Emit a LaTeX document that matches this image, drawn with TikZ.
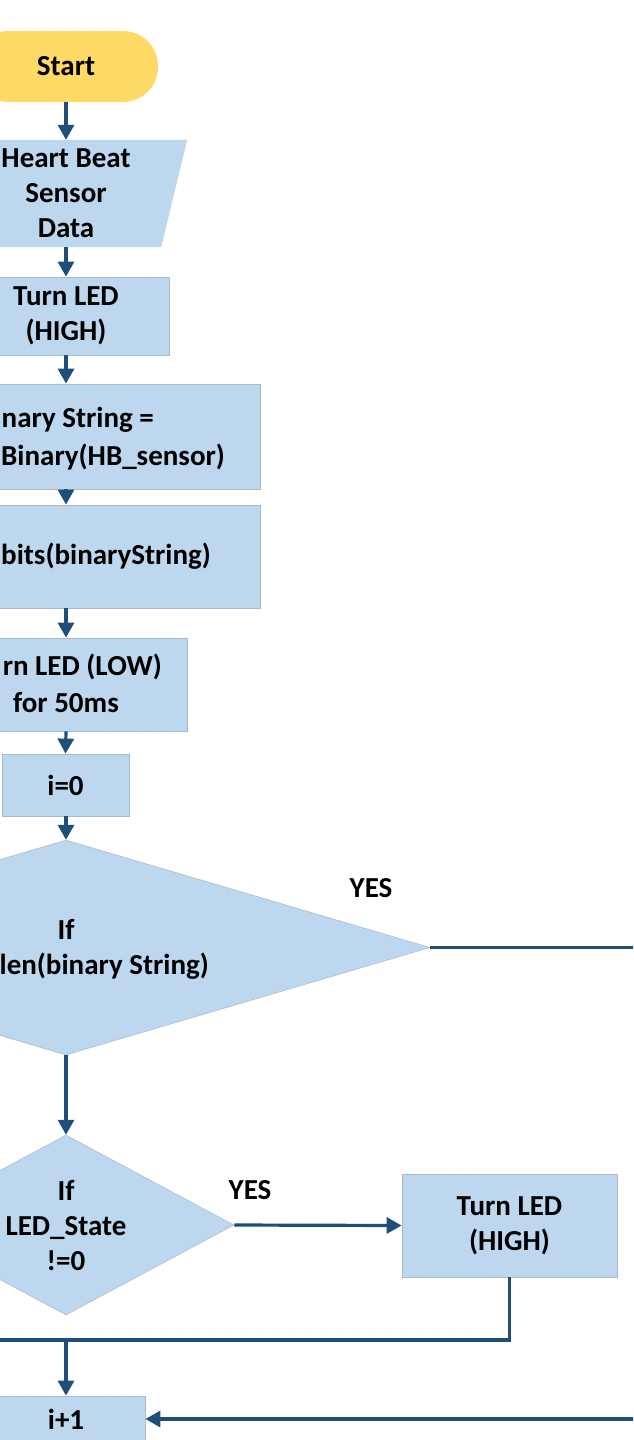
\documentclass[tikz,border=0pt]{standalone}
\usepackage{fontspec}
\setmainfont{Carlito}
\usetikzlibrary{arrows.meta,shapes.geometric,backgrounds}
\definecolor{boxfill}{HTML}{BDD7EE}
\definecolor{boxline}{HTML}{A9B9C9}
\definecolor{termfill}{HTML}{FFD966}
\definecolor{flow}{HTML}{1F4E79}
\tikzset{
  base/.style={font=\fontsize{29}{35}\selectfont\bfseries, text=black, inner sep=0pt, align=center},
  procbox/.style={base, rectangle, fill=boxfill, draw=boxline, line width=0.8pt},
  decision/.style={base, diamond, fill=boxfill, draw=boxline, line width=0.5pt},
  terminal/.style={base, rectangle, rounded corners=35pt, fill=termfill},
  label/.style={base},
  flowline/.style={draw=flow, line width=3.2pt},
  flowarrow/.style={flowline, -{Triangle[length=15pt,width=16pt]}}
}
\begin{document}
\begin{tikzpicture}[x=1pt,y=-1pt]
\useasboundingbox (0,0) rectangle (633,1440);
\clip (0,0) rectangle (633,1440);

% start terminal
\node[terminal, minimum width=184pt, minimum height=71pt] (start) at (66,66.5) {Start};

% sensor input (parallelogram drawn around a frame node)
\node[label, minimum width=216pt, minimum height=107pt] (hb) at (66,193.5) {Heart Beat\\Sensor\\Data};
\begin{scope}[on background layer]
  \fill[boxfill] ([xshift=13pt]hb.north west) -- ([xshift=13pt]hb.north east)
     -- ([xshift=-13pt]hb.south east) -- ([xshift=-13pt]hb.south west) -- cycle;
\end{scope}

% processing steps
\node[procbox, minimum width=206pt, minimum height=78pt] (ledon) at (66,316) {Turn LED\\(HIGH)};
\node[procbox, minimum width=388pt, minimum height=105pt] (bin) at (66,436.5) {};
\node[label, anchor=east] (binA) at (154,420) {nary String =};
\node[label, anchor=west] (binB) at (1,457) {Binary(HB\_sensor)};
\node[procbox, minimum width=388pt, minimum height=103pt] (bits) at (66,556.5) {};
\node[label, anchor=west] (bitsT) at (1,556) {bits(binaryString)};
\node[procbox, minimum width=242pt, minimum height=93pt] (ledoff) at (66,684.5) {};
\node[label, anchor=east] (offA) at (162,667) {rn LED (LOW)};
\node[label] (offB) at (66,703) {for 50ms};
\node[procbox, minimum width=127pt, minimum height=62pt] (init) at (65.5,785) {i=0};

% loop condition
\node[decision, minimum width=728pt, minimum height=215pt] (loop) at (66,947.5) {};
\node[label] (loopA) at (66,929) {If};
\node[label, anchor=east] (loopB) at (209,966) {len(binary String)};
\node[label] (yesA) at (371,888) {YES};
\coordinate (loopout) at (660,947.5);

% state check
\node[decision, minimum width=336pt, minimum height=180pt] (state) at (66,1225) {};
\node[label] (stateT) at (66,1226) {If\\LED\_State\\!=0};
\node[label] (yesB) at (250,1190) {YES};
\node[procbox, minimum width=215pt, minimum height=103pt] (ledhigh) at (509.5,1225.5) {Turn LED\\(HIGH)};

% increment
\node[procbox, minimum width=158pt, minimum height=46pt] (inc) at (66,1419) {i+1};

% junction coordinates
\coordinate (join) at (66,1340);
\coordinate (leftin) at (-20,1340);
\coordinate (backin) at (660,1419);

% connectors
\draw[flowarrow] (start.south) -- (hb.north);
\draw[flowarrow] (hb.south) -- (ledon.north);
\draw[flowarrow] (ledon.south) -- (bin.north);
\draw[flowarrow] (bin.south) -- (bits.north);
\draw[flowarrow] (bits.south) -- (ledoff.north);
\draw[flowarrow] (ledoff.south) -- (init.north);
\draw[flowarrow] (init.south -| loop.north) -- (loop.north);
\draw[flowline] (loop.east) -- (loopout);
\draw[flowarrow] (loop.south) -- (state.north);
\draw[flowarrow] (state.east) -- (ledhigh.west);
\draw[flowline] (ledhigh.south) |- (join);
\draw[flowline] (leftin) -- (join);
\draw[flowarrow] (join) -- (inc.north);
\draw[flowarrow] (backin) -- (inc.east);
\end{tikzpicture}
\end{document}
